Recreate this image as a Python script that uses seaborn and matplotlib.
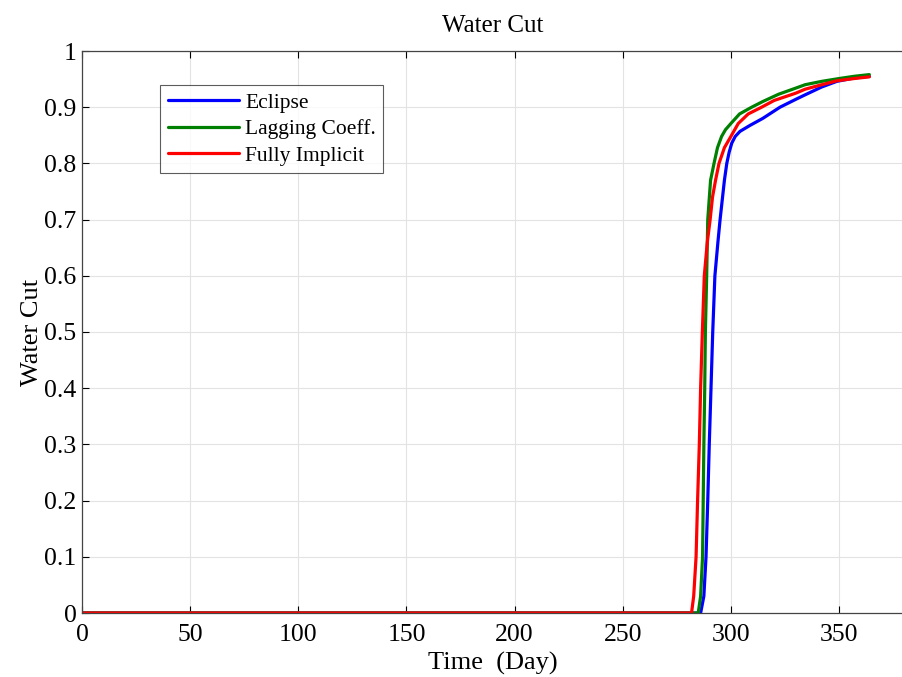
import matplotlib
matplotlib.use("Agg")
import matplotlib.pyplot as plt
import seaborn as sns
import pandas as pd

# ---- data ----
eclipse_t = [0, 286, 287.5, 288.5, 289.3, 290, 290.8, 291.6, 292.6, 294.0, 295, 297, 298.1,
             299.2, 300.4, 302, 304.2, 309, 314.7, 322.7, 330, 334.3, 342, 349, 357, 364]
eclipse_wc = [0, 0, 0.03, 0.1, 0.2, 0.3, 0.4, 0.5, 0.6, 0.66, 0.7, 0.77, 0.8,
              0.82, 0.836, 0.848, 0.857, 0.868, 0.88, 0.9, 0.914, 0.922, 0.936, 0.946, 0.952, 0.955]

lagging_t = [0, 284.9, 286, 286.9, 287.2, 287.5, 287.9, 288.2, 288.8, 289.3, 290.6, 292.2,
             293.8, 295.7, 297.5, 300, 304, 309.6, 314.7, 322, 330, 334.3, 342, 350, 357, 364]
lagging_wc = [0, 0, 0.03, 0.1, 0.2, 0.3, 0.4, 0.5, 0.6, 0.7, 0.77, 0.8,
              0.828, 0.848, 0.860, 0.871, 0.888, 0.9, 0.91, 0.923, 0.934, 0.94, 0.946, 0.951, 0.955, 0.958]

implicit_t = [0, 281.8, 282.8, 283.9, 284.6, 285.4, 286, 286.8, 287.7, 289.1, 290.4, 291.5,
              292.9, 294.5, 297, 300, 303.4, 308, 314.2, 320, 330, 334.3, 342, 349, 357, 364]
implicit_wc = [0, 0, 0.03, 0.1, 0.2, 0.3, 0.4, 0.5, 0.6, 0.66, 0.7, 0.74,
               0.77, 0.8, 0.828, 0.848, 0.871, 0.888, 0.9, 0.912, 0.925, 0.932, 0.94, 0.947, 0.951, 0.954]

series_names = ["Eclipse", "Lagging Coeff.", "Fully Implicit"]
colors = ["#0000ff", "#008000", "#ff0000"]
x_ticks = [0, 50, 100, 150, 200, 250, 300, 350]
y_ticks = [0, 0.1, 0.2, 0.3, 0.4, 0.5, 0.6, 0.7, 0.8, 0.9, 1]
y_ticklabels = ["0", "0.1", "0.2", "0.3", "0.4", "0.5", "0.6", "0.7", "0.8", "0.9", "1"]

frames = []
for name, t, wc in zip(series_names, [eclipse_t, lagging_t, implicit_t],
                       [eclipse_wc, lagging_wc, implicit_wc]):
    frames.append(pd.DataFrame({"Time": t, "WC": wc, "Method": name}))
df = pd.concat(frames, ignore_index=True)

sns.set_theme(style="white")
plt.rcParams["font.family"] = ["Liberation Serif", "DejaVu Serif"]
plt.rcParams["text.color"] = "black"
plt.rcParams["axes.labelcolor"] = "black"
plt.rcParams["xtick.color"] = "black"
plt.rcParams["ytick.color"] = "black"

fig = plt.figure(figsize=(9.02, 6.77), dpi=100)
ax = fig.add_axes([82 / 902, (677 - 613) / 677, (380 * 2.163) / 902, (613 - 51) / 677])

sns.lineplot(data=df, x="Time", y="WC", hue="Method", hue_order=series_names,
             palette=colors, linewidth=2.3, sort=False, estimator=None, ax=ax)

ax.set_xlim(0, 380)
ax.set_ylim(0, 1)
ax.set_xticks(x_ticks)
ax.set_xticklabels([str(v) for v in x_ticks])
ax.set_yticks(y_ticks)
ax.set_yticklabels(y_ticklabels)
ax.grid(True, color="#e3e3e3", linewidth=0.8)
ax.tick_params(direction="in", length=5, width=0.8, labelsize=18.5,
               top=True, right=False, bottom=True, left=True)
ax.tick_params(axis="x", pad=8)
ax.tick_params(axis="y", pad=4)
for s in ax.spines.values():
    s.set_color("#444444")
    s.set_linewidth(0.9)
ax.spines["right"].set_visible(False)

ax.set_xlabel("Time  (Day)", fontsize=19, labelpad=4)
ax.set_ylabel("Water Cut", fontsize=19, labelpad=1)
ax.set_title("Water Cut", fontsize=18, pad=14)

leg = ax.legend(loc="upper left", bbox_to_anchor=(78 / 822, 1 - 34 / 562), fontsize=15.5,
                frameon=True, fancybox=False, handlelength=3.3, handletextpad=0.3,
                borderpad=0.35, labelspacing=0.3, borderaxespad=0)
leg.get_frame().set_edgecolor("#333333")
leg.get_frame().set_linewidth(0.8)
for line in leg.get_lines():
    line.set_linewidth(2.3)

fig.savefig("out.png", dpi=100)
